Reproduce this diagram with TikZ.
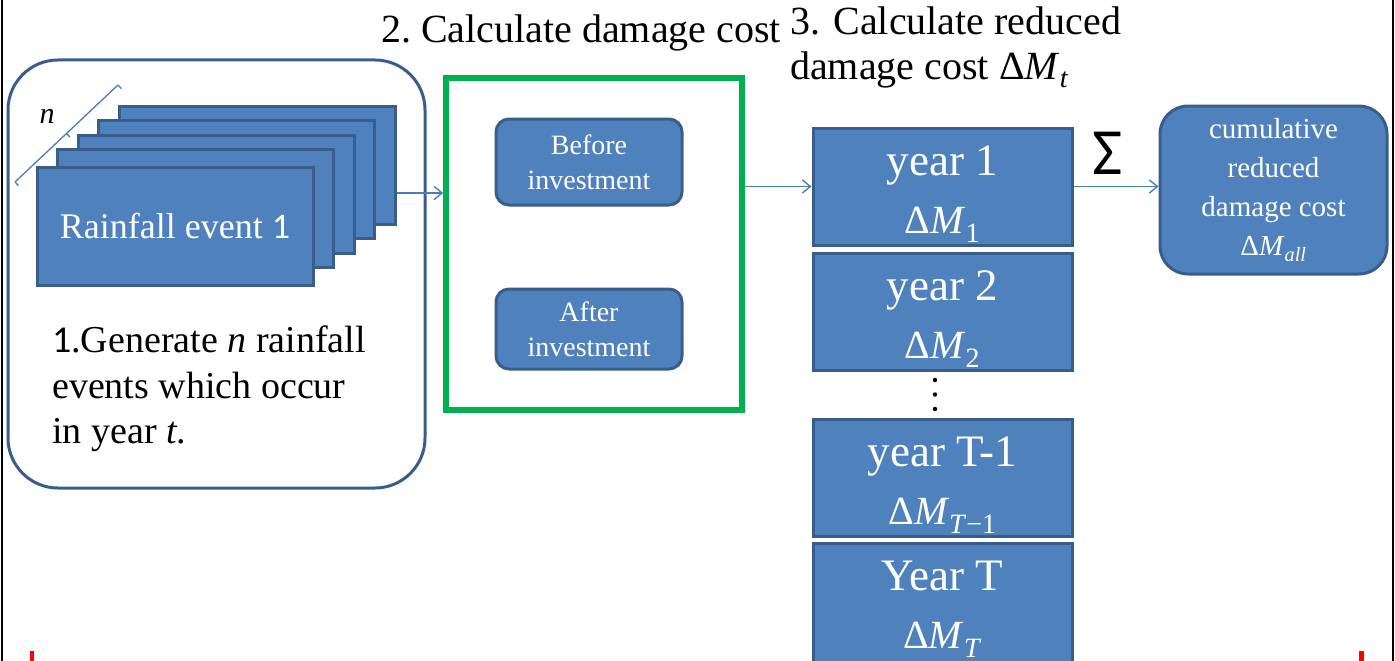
\documentclass[tikz,border=0pt]{standalone}
\usepackage{fontspec}
\setmainfont{Liberation Serif}
\newfontfamily\calfont{Carlito}
\usetikzlibrary{positioning,arrows.meta}

\definecolor{boxfill}{RGB}{79,129,189}
\definecolor{boxline}{RGB}{56,93,138}
\definecolor{arrowblue}{RGB}{74,126,187}
\definecolor{framegreen}{RGB}{0,176,80}

% reduced damage cost symbol and year label
\newcommand{\dmsym}[1]{Δ\textit{M}\textsubscript{#1}}
\newcommand{\yearlab}[2]{{\fontsize{45}{58}\selectfont #1}\\{\fontsize{40}{58}\selectfont\dmsym{#2}}}

\tikzset{
  bluebox/.style={draw=boxline, fill=boxfill, line width=3pt, text=white, align=center, inner sep=0pt},
  yearbox/.style={bluebox, minimum width=259, minimum height=117, text height=103pt, font=\fontsize{40}{58}\selectfont},
  eventbox/.style={bluebox, minimum width=276, minimum height=118, font=\fontsize{36}{43}\selectfont},
  investbox/.style={bluebox, rounded corners=13pt, minimum width=186, font=\fontsize{28}{35}\selectfont},
  arr/.style={draw=arrowblue, line width=1.4pt, -{Straight Barb[length=8pt,width=13pt]}}
}

\begin{document}
\begin{tikzpicture}[x=1pt, y=-1pt]
 \useasboundingbox (0,0) rectangle (1395,661);
 % page frame
 \draw[line width=2pt] (2,0) -- (2,661);
 \draw[line width=2pt] (1393,0) -- (1393,661);
 \fill[red] (29.5,651) rectangle (34,661);
 \fill[red] (1359,651) rectangle (1363.5,661);

 % 1. rainfall events
 \node[draw=boxline, line width=3pt, rounded corners=50pt, minimum width=417, minimum height=428] (gen) at (216.5,274) {};
 \foreach \i in {4,3,2,1}
   \node[eventbox] (ev\i) at (175+20.5*\i,223-14.5*\i) {};
 \node[eventbox] (ev0) at (175,226) {Rainfall event {\calfont 1}};
 \draw[arrowblue, line width=1.3pt] (15,182) -- (118,85)
   (15,182) -- ++(3.4,3.6) (118,85) -- ++(3.4,3.6) (66.5,133.5) -- ++(3.4,3.6);
 \node[font=\fontsize{30}{36}\selectfont] (nlab) at (47,116) {\textit{n}};
 \node[anchor=west, align=left, inner sep=0pt, font=\fontsize{38}{45.5}\selectfont] (gentext) at (52,389)
   {{\calfont 1}.Generate \textit{n} rainfall\\events which occur\\in year \textit{t}.};

 % 2. damage cost
 \node[draw=framegreen, line width=5.5pt, minimum width=296, minimum height=332] (green) at (594,244) {};
 \node[font=\fontsize{40}{48}\selectfont] (title2) at (581,33) {2.\ Calculate damage cost};
 \node[investbox, minimum height=86] (before) at (589,162) {Before\\investment};
 \node[investbox, minimum height=80] (after) at (589,329) {After\\investment};

 % 3. reduced damage cost
 \node[anchor=north west, align=left, inner sep=0pt, font=\fontsize{40}{45}\selectfont] (title3) at (790,7)
   {3. Calculate reduced\\damage cost \dmsym{\textit{t}}};
 \node[yearbox] (y1) at (942.5,186.5) {\yearlab{year 1}{1}};
 \node[yearbox] (y2) at (942.5,311.5) {\yearlab{year 2}{2}};
 \foreach \d in {380,394.5,409}
   \fill (935,\d) circle (2.2);
 \node[yearbox] (yT1) at (942.5,477.5) {\yearlab{year T-1}{\textit{T}−1}};
 \node[yearbox, minimum height=130, text height=90pt] (yT) at (942.5,608) {\yearlab{Year T}{\textit{T}}};

 % cumulative
 \node[bluebox, rounded corners=28pt, minimum width=227, minimum height=168, font=\fontsize{29}{39}\selectfont] (cum) at (1273.5,190)
   {cumulative\\reduced\\damage cost\\\dmsym{\textit{all}}};
 \node[font=\calfont\fontsize{66}{70}\selectfont] (sigma) at (1108,153) {Σ};

 % connectors
 \draw[arr] ([yshift=-28pt]ev4.east) -- ([yshift=-28pt]ev4.east -| green.west);
 \draw[arr] (green.east |- y1.west) -- (y1.west);
 \draw[arr] (y1.east) -- (cum.west |- y1.east);
\end{tikzpicture}
\end{document}
